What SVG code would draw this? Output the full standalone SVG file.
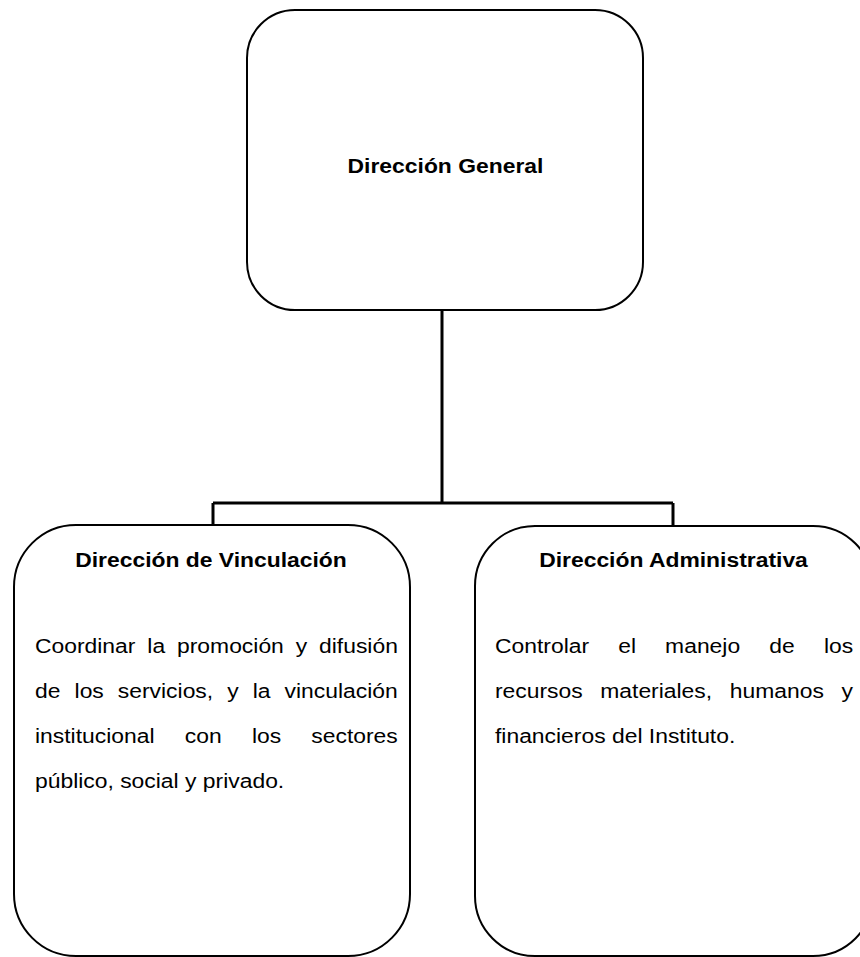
<svg xmlns="http://www.w3.org/2000/svg" width="860" height="957" viewBox="0 0 860 957">
<style>
.box{fill:#fff;stroke:#000;stroke-width:2}
.conn{fill:none;stroke:#000;stroke-width:3}
.t{font-family:"Liberation Sans",Arial,sans-serif;font-size:21px;fill:#000}
.b{font-weight:bold}
.c{text-anchor:middle}
</style>
<rect width="860" height="957" fill="#fff"/>
<g id="connectors">
<path class="conn" d="M442 310 V503 M213 503 H673 M213 503 V525 M673 503 V526"/>
</g>
<g id="direccion-general">
<rect class="box" x="247" y="10" width="396" height="300" rx="48" ry="48"/>
<g transform="scale(1.09,1)">
<text class="t b c" x="408.7" y="173">Dirección General</text>
</g>
</g>
<g id="direccion-vinculacion">
<rect class="box" x="14" y="525" width="396" height="431" rx="62" ry="62"/>
<g transform="scale(1.09,1)">
<text class="t b c" x="193.6" y="567">Dirección de Vinculación</text>
<text class="t" y="653"><tspan x="32.1">Coordinar</tspan> <tspan x="135.2">la</tspan> <tspan x="162.4">promoción</tspan> <tspan x="271.3">y</tspan> <tspan x="292.7">difusión</tspan></text>
<text class="t" y="698"><tspan x="32.1">de</tspan> <tspan x="68.4">los</tspan> <tspan x="108.1">servicios,</tspan> <tspan x="208.5">y</tspan> <tspan x="231.9">la</tspan> <tspan x="261.1">vinculación</tspan></text>
<text class="t" y="743"><tspan x="32.1">institucional</tspan> <tspan x="169.5">con</tspan> <tspan x="231.1">los</tspan> <tspan x="285.6">sectores</tspan></text>
<text class="t" x="32.1" y="788">público, social y privado.</text>
</g>
</g>
<g id="direccion-administrativa">
<rect class="box" x="475" y="526" width="398" height="430" rx="60" ry="60"/>
<g transform="scale(1.09,1)">
<text class="t b c" x="617.9" y="567">Dirección Administrativa</text>
<text class="t" y="653"><tspan x="454.1">Controlar</tspan> <tspan x="567.2">el</tspan> <tspan x="610.2">manejo</tspan> <tspan x="705.8">de</tspan> <tspan x="755.9">los</tspan></text>
<text class="t" y="698"><tspan x="454.1">recursos</tspan> <tspan x="550.7">materiales,</tspan> <tspan x="669.5">humanos</tspan> <tspan x="772.0">y</tspan></text>
<text class="t" x="454.1" y="743">financieros del Instituto.</text>
</g>
</g>
</svg>
